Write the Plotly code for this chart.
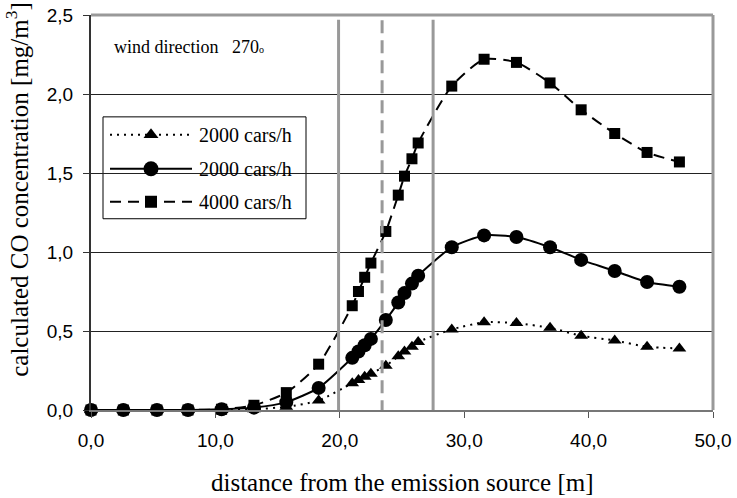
import plotly.graph_objects as go

# distance from the emission source [m]
distance = [0.0, 2.6, 5.3, 7.8, 10.5, 13.1, 15.7, 18.3,
            21.0, 21.5, 22.0, 22.5, 23.7, 24.7, 25.2, 25.8, 26.3,
            29.0, 31.6, 34.2, 36.9, 39.4, 42.1, 44.7, 47.3]

# calculated CO concentration [mg/m3]
co_2000_a = [0.0, 0.0, 0.0, 0.0, 0.0, 0.005, 0.02, 0.06,
             0.17, 0.19, 0.21, 0.23, 0.28, 0.34, 0.37, 0.40, 0.43,
             0.51, 0.555, 0.55, 0.52, 0.47, 0.44, 0.40, 0.39]
co_2000_b = [0.0, 0.0, 0.0, 0.0, 0.005, 0.015, 0.05, 0.14,
             0.33, 0.37, 0.41, 0.45, 0.57, 0.68, 0.74, 0.80, 0.85,
             1.03, 1.105, 1.095, 1.03, 0.95, 0.88, 0.81, 0.78]
co_4000 = [0.0, 0.0, 0.0, 0.0, 0.005, 0.03, 0.11, 0.29,
           0.66, 0.75, 0.84, 0.93, 1.13, 1.36, 1.48, 1.59, 1.69,
           2.05, 2.22, 2.20, 2.07, 1.90, 1.75, 1.63, 1.57]

series_names = ["2000 cars/h", "2000 cars/h", "4000 cars/h"]

# vertical reference lines (distance, dash style)
boundary_x = [19.9, 23.4, 27.5]
boundary_dash = ["solid", "13px,7px", "solid"]

x_ticks = [0, 10, 20, 30, 40, 50]
y_ticks = [0, 0.5, 1.0, 1.5, 2.0, 2.5]

SERIF = "Liberation Serif, Times New Roman, serif"
SANS = "Liberation Sans, Arial, sans-serif"

# line / marker style of each series
styles = [
    dict(dash="2px,5px", symbol="triangle-up", size=12),
    dict(dash="solid", symbol="circle", size=14),
    dict(dash="11px,7px", symbol="square", size=11),
]

fig = go.Figure()

for bx, dash in zip(boundary_x, boundary_dash):
    fig.add_shape(type="line", xref="x", yref="y", x0=bx, x1=bx, y0=-0.02, y1=2.47,
                  line=dict(color="#999999", width=3, dash=dash), layer="above")

for vals, st, name in zip([co_2000_a, co_2000_b, co_4000], styles, series_names):
    fig.add_trace(go.Scatter(
        x=distance, y=vals, name=name, mode="lines+markers", showlegend=False,
        cliponaxis=False,
        line=dict(color="black", width=2, dash=st["dash"], shape="spline", smoothing=0.6),
        marker=dict(symbol=st["symbol"], size=st["size"], color="black"),
    ))

# legend drawn on an overlay axis measured in pixels of the plot area
LEG_BOX = (103, 306, 117, 219)
LEG_ROWS = [135, 169, 202]
LEG_LINE = (110, 192)
LEG_TEXT_X = 197

fig.add_shape(type="rect", xref="x2", yref="y2",
              x0=LEG_BOX[0], x1=LEG_BOX[1], y0=LEG_BOX[2], y1=LEG_BOX[3],
              line=dict(color="black", width=1), fillcolor="white", layer="below")
for row_y, st, name in zip(LEG_ROWS, styles, series_names):
    fig.add_trace(go.Scatter(
        x=[LEG_LINE[0], LEG_LINE[1]], y=[row_y, row_y], xaxis="x2", yaxis="y2",
        mode="lines", showlegend=False, hoverinfo="skip",
        line=dict(color="black", width=2, dash=st["dash"])))
    fig.add_trace(go.Scatter(
        x=[(LEG_LINE[0] + LEG_LINE[1]) / 2], y=[row_y], xaxis="x2", yaxis="y2",
        mode="markers", showlegend=False, hoverinfo="skip",
        marker=dict(symbol=st["symbol"], size=st["size"] + 1, color="black")))
    fig.add_annotation(xref="x2", yref="y2", x=LEG_TEXT_X, y=row_y,
                       xanchor="left", yanchor="middle", text=name, showarrow=False,
                       font=dict(family=SERIF, size=20, color="black"))

fig.add_annotation(xref="x2", yref="y2", x=112, y=47, xanchor="left", yanchor="middle",
                   text="wind direction   270<span style=\"font-size:10px\">o</span>",
                   showarrow=False, font=dict(family=SERIF, size=18, color="black"))

# axis titles placed as annotations
fig.add_annotation(xref="paper", yref="paper", x=-0.119, y=0.56,
                   xanchor="center", yanchor="middle", textangle=-90, showarrow=False,
                   text="calculated CO concentration [mg/m<sup>3</sup>]",
                   font=dict(family=SERIF, size=25, color="black"))
fig.add_annotation(xref="paper", yref="paper", x=0.5, y=-0.183,
                   xanchor="center", yanchor="middle", showarrow=False,
                   text="distance from the emission source [m]",
                   font=dict(family=SERIF, size=25, color="black"))

fig.update_layout(
    width=737, height=498,
    margin=dict(l=91, r=24, t=15, b=88),
    paper_bgcolor="white", plot_bgcolor="white",
    separators=", ",
    showlegend=False,
    xaxis=dict(range=[0, 50], tickvals=x_ticks, tickformat=".1f", automargin=False,
               showgrid=False, zeroline=False,
               showline=True, linecolor="#777777", linewidth=2, mirror=False,
               ticks="outside", ticklen=6, tickcolor="#555555", ticklabelstandoff=6,
               tickfont=dict(family=SANS, size=19, color="black")),
    yaxis=dict(range=[0, 2.5], tickvals=y_ticks, tickformat=".1f", automargin=False,
               showgrid=True, gridcolor="#222222", gridwidth=1, zeroline=False,
               showline=True, linecolor="#333333", linewidth=2,
               ticks="outside", ticklen=6, tickcolor="#333333", ticklabelstandoff=6,
               tickfont=dict(family=SANS, size=19, color="black")),
    xaxis2=dict(overlaying="x", range=[91, 713], visible=False, fixedrange=True),
    yaxis2=dict(overlaying="y", range=[410.5, 15], visible=False, fixedrange=True),
)

# grey frame on the top and right sides of the plot area
fig.add_shape(type="line", xref="paper", yref="paper", x0=0, x1=1, y0=1, y1=1,
              line=dict(color="#999999", width=3))
fig.add_shape(type="line", xref="paper", yref="paper", x0=1, x1=1, y0=0, y1=1,
              line=dict(color="#999999", width=3))

fig.write_html("out.html")
